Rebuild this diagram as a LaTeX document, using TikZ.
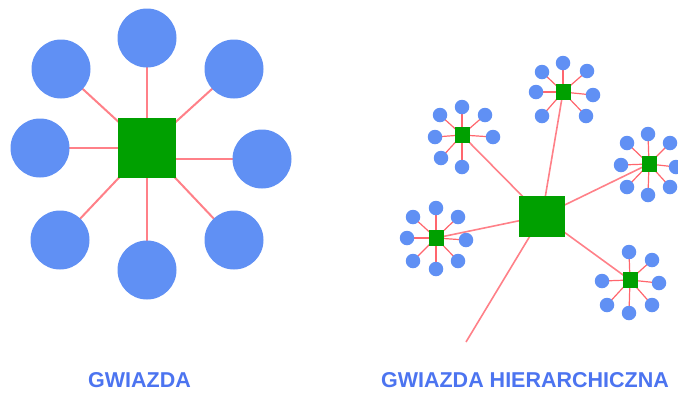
\documentclass[tikz,border=0pt]{standalone}
\usepackage{fontspec}
\setmainfont{Liberation Sans}
\usetikzlibrary{backgrounds}
\definecolor{leaf}{HTML}{6090F4}
\definecolor{hubgreen}{HTML}{00A000}
\definecolor{link}{HTML}{FF8088}
\definecolor{caption}{HTML}{4C74F0}
\tikzset{
  bigleaf/.style={circle, fill=leaf, minimum size=59pt, inner sep=0pt},
  bighub/.style={rectangle, fill=hubgreen, minimum width=58pt, minimum height=60pt, inner sep=0pt},
  midhub/.style={rectangle, fill=hubgreen, minimum width=46pt, minimum height=41pt, inner sep=0pt},
  smallhub/.style={rectangle, fill=hubgreen, minimum width=15pt, minimum height=16pt, inner sep=0pt},
  smallleaf/.style={circle, fill=leaf, minimum size=14.5pt, inner sep=0pt},
  biglink/.style={draw=link, line width=2pt},
  hublink/.style={draw=link, line width=1.6pt},
  leaflink/.style={draw=link!80!red, line width=1.2pt},
  captiontext/.style={text=caption, font=\bfseries\fontsize{21.5}{22}\selectfont, inner sep=0pt}
}
\begin{document}
\begin{tikzpicture}[x=1pt, y=-1pt]
\useasboundingbox (0,0) rectangle (678,392);

% simple star
\node[bighub] (s) at (147,148) {};
\foreach \n/\x/\y in {t/147/38, ul/61/69, ur/234/69, l/40/148, r/262/159, ll/60/240, b/147/270, lr/234/240} {
  \node[bigleaf] (s\n) at (\x,\y) {};
}
\begin{scope}[on background layer]
  \draw[biglink] (s.center) -- (st.center);
  \draw[biglink] (s.center) -- (sul.center);
  \draw[biglink] (s.center) -- (sur.center);
  \draw[biglink] (s.center) -- (sl.center);
  \draw[biglink] (s.center) -- (sll.center);
  \draw[biglink] (s.center) -- (sb.center);
  \draw[biglink] (s.center) -- (slr.center);
  \draw[biglink] (s.north east |- sr.center) -- (sr.center);
\end{scope}

% hierarchical star
\node[midhub] (h) at (542,216) {};
\coordinate (hend) at (466,342);
\node[smallhub] (a) at (563,92) {};
\node[smallhub] (b) at (462,135) {};
\node[smallhub] (c) at (649,164) {};
\node[smallhub] (d) at (436,238) {};
\node[smallhub] (e) at (630,280) {};

\foreach \n/\x/\y [count=\i] in {a/563/63, a/536/92, a/593/95, a/542/72, a/587/71, a/542/116, a/586/116,
  b/462/107, b/440/115, b/485/115, b/435/137, b/493/137, b/441/158, b/462/167,
  c/648/134, c/627/143, c/670/143, c/621/165, c/676/167, c/627/187, c/648/195, c/670/187,
  d/436/208, d/413/217, d/458/217, d/407/238, d/466/240, d/413/261, d/436/269, d/458/261,
  e/629/252, e/652/260, e/602/281, e/659/283, e/607/305, e/629/313, e/652/305} {
  \node[smallleaf] (leaf\i) at (\x,\y) {};
  \begin{scope}[on background layer]
    \draw[leaflink] (\n.center) -- (leaf\i.center);
  \end{scope}
}
\begin{scope}[on background layer]
  \foreach \k in {a,b,c,d,e} \draw[hublink] (h.center) -- (\k.center);
  \draw[hublink] (h.center) -- (hend);
\end{scope}

% captions
\node[captiontext] (cap1) at (139.5,380) {GWIAZDA};
\node[captiontext] (cap2) at (525,380) {GWIAZDA HIERARCHICZNA};
\end{tikzpicture}
\end{document}
